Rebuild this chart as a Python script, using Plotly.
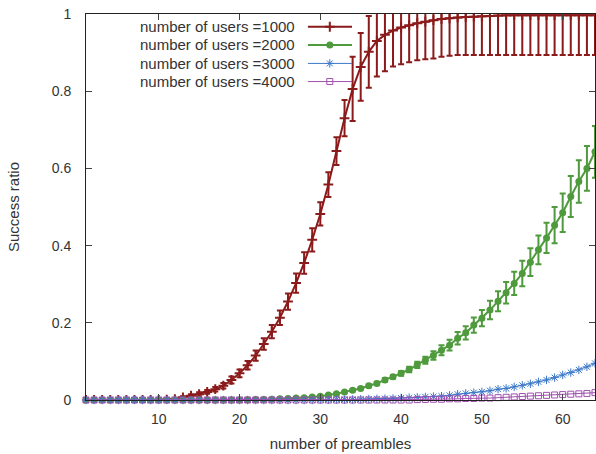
import plotly.graph_objects as go

preambles = list(range(1, 65))

users_1000 = [0, 0, 0, 0, 0, 0, 0, 0, 0, 0,
              0.001, 0.002, 0.007, 0.011, 0.015, 0.021, 0.028, 0.037, 0.052, 0.069,
              0.09, 0.115, 0.145, 0.177, 0.213, 0.255, 0.303, 0.355, 0.415, 0.482,
              0.558, 0.645, 0.73, 0.806, 0.863, 0.902, 0.93, 0.946, 0.957, 0.965,
              0.971, 0.976, 0.98, 0.984, 0.987, 0.989, 0.991, 0.992, 0.993, 0.994,
              0.995, 0.996, 0.997, 0.997, 0.997, 0.997, 0.997, 0.997, 0.997, 0.997,
              0.997, 0.997, 0.997, 0.997]
err_1000 = [0, 0, 0, 0, 0, 0, 0, 0, 0, 0,
            0.002, 0.002, 0.003, 0.004, 0.005, 0.005, 0.006, 0.007, 0.009, 0.01,
            0.011, 0.013, 0.015, 0.017, 0.019, 0.021, 0.025, 0.028, 0.03, 0.03,
            0.032, 0.036, 0.047, 0.083, 0.088, 0.093, 0.092, 0.094, 0.093, 0.095,
            0.096, 0.096, 0.097, 0.099, 0.098, 0.097, 0.097, 0.098, 0.099, 0.1,
            0.101, 0.102, 0.103, 0.103, 0.103, 0.103, 0.103, 0.103, 0.103, 0.103,
            0.103, 0.103, 0.103, 0.103]

users_2000 = [0, 0, 0, 0, 0, 0, 0, 0, 0, 0,
              0, 0, 0, 0, 0, 0, 0, 0, 0, 0,
              0.0005, 0.001, 0.0015, 0.002, 0.003, 0.004, 0.005, 0.006, 0.008, 0.01,
              0.013, 0.016, 0.021, 0.025, 0.03, 0.037, 0.043, 0.052, 0.06, 0.069,
              0.079, 0.091, 0.103, 0.115, 0.129, 0.142, 0.16, 0.174, 0.194, 0.212,
              0.233, 0.256, 0.278, 0.302, 0.328, 0.357, 0.389, 0.42, 0.453, 0.485,
              0.527, 0.566, 0.6, 0.643]
err_2000 = [0, 0, 0, 0, 0, 0, 0, 0, 0, 0,
            0, 0, 0, 0, 0, 0, 0, 0, 0, 0,
            0.001, 0.001, 0.001, 0.001, 0.001, 0.001, 0.001, 0.001, 0.001, 0.001,
            0.002, 0.002, 0.002, 0.003, 0.003, 0.004, 0.004, 0.005, 0.005, 0.006,
            0.007, 0.008, 0.009, 0.011, 0.013, 0.014, 0.016, 0.017, 0.02, 0.021,
            0.024, 0.026, 0.028, 0.03, 0.033, 0.036, 0.037, 0.039, 0.047, 0.05,
            0.053, 0.055, 0.058, 0.067]

users_3000 = [0, 0, 0, 0, 0, 0, 0, 0, 0, 0,
              0, 0, 0, 0, 0, 0, 0, 0, 0, 0,
              0, 0, 0, 0, 0, 0, 0, 0, 0, 0.0005,
              0.0007, 0.001, 0.001, 0.0015, 0.002, 0.0025, 0.003, 0.0035, 0.004, 0.005,
              0.006, 0.007, 0.008, 0.009, 0.01, 0.012, 0.015, 0.017, 0.019, 0.021,
              0.024, 0.028, 0.03, 0.034, 0.038, 0.042, 0.047, 0.052, 0.058, 0.065,
              0.071, 0.078, 0.086, 0.095]

users_4000 = [0, 0, 0, 0, 0, 0, 0, 0, 0, 0,
              0, 0, 0, 0, 0, 0, 0, 0, 0, 0,
              0, 0, 0, 0, 0, 0, 0, 0, 0, 0,
              0, 0, 0, 0, 0, 0, 0, 0, 0, 0,
              0, 0.001, 0.0015, 0.002, 0.002, 0.003, 0.003, 0.004, 0.004, 0.005,
              0.005, 0.006, 0.007, 0.008, 0.009, 0.01, 0.011, 0.012, 0.013, 0.014,
              0.015, 0.016, 0.017, 0.019]

series_names = ["number of users =1000", "number of users =2000",
                "number of users =3000", "number of users =4000"]
x_ticks = [10, 20, 30, 40, 50, 60]
y_ticks = [0, 0.2, 0.4, 0.6, 0.8, 1]
y_tick_text = ["0", "0.2", "0.4", "0.6", "0.8", "1"]

RED = "#8b1a1a"
GREEN = "#4e9a3c"
BLUE = "#3c78c8"
PURPLE = "#a050b0"
FONT = "Liberation Sans"
TXT = "#333333"

styles = [
    dict(color=RED, lw=2, sym="cross-thin", size=7, mlw=2),
    dict(color=GREEN, lw=2, sym="circle", size=7, mlw=0),
    dict(color=BLUE, lw=1, sym="asterisk-open", size=7, mlw=1),
    dict(color=PURPLE, lw=1, sym="square-open", size=6, mlw=1),
]

fig = go.Figure()

data = [(users_1000, err_1000), (users_2000, err_2000), (users_3000, None), (users_4000, None)]
for i, ((vals, errs), st) in enumerate(zip(data, styles)):
    tr = dict(
        x=preambles, y=vals, mode="lines+markers", name=series_names[i],
        line=dict(color=st["color"], width=st["lw"]),
        marker=dict(symbol=st["sym"], size=st["size"], color=st["color"],
                    line=dict(color=st["color"], width=st["mlw"])),
        showlegend=False,
        cliponaxis=(i == 0),
    )
    if errs is not None:
        tr["error_y"] = dict(type="data", array=errs, visible=True,
                             color=st["color"], thickness=2, width=3)
    fig.add_trace(go.Scatter(**tr))

# legend key drawn on an overlay axis spanning the plot area
key_y = [0.967, 0.920, 0.872, 0.825]
for i, st in enumerate(styles):
    fig.add_trace(go.Scatter(
        x=[0.436, 0.5226], y=[key_y[i], key_y[i]], mode="lines",
        line=dict(color=st["color"], width=st["lw"]),
        xaxis="x2", yaxis="y2", showlegend=False, hoverinfo="skip"))
    fig.add_trace(go.Scatter(
        x=[0.479], y=[key_y[i]], mode="markers",
        marker=dict(symbol=st["sym"], size=st["size"], color=st["color"],
                    line=dict(color=st["color"], width=st["mlw"])),
        xaxis="x2", yaxis="y2", showlegend=False, hoverinfo="skip"))
    fig.add_annotation(x=0.4145, y=key_y[i], xref="paper", yref="paper",
                       text=series_names[i], showarrow=False,
                       xanchor="right", yanchor="middle",
                       font=dict(family=FONT, size=15, color=TXT))

axis_common = dict(showline=True, linecolor="#222222", linewidth=1,
                   mirror="ticks", ticks="inside", ticklen=6,
                   tickcolor="#444444", showgrid=False, zeroline=False,
                   tickfont=dict(family=FONT, size=14, color=TXT))

fig.update_layout(
    width=596, height=454,
    margin=dict(l=86, r=1, t=14, b=54),
    paper_bgcolor="white", plot_bgcolor="white",
    xaxis=dict(range=[1, 64], tickvals=x_ticks,
               title=dict(text="number of preambles", standoff=12,
                          font=dict(family=FONT, size=15, color=TXT)),
               ticklabelstandoff=6, **axis_common),
    yaxis=dict(range=[0, 1], tickvals=y_ticks, ticktext=y_tick_text,
               title=dict(text="Success ratio", standoff=28,
                          font=dict(family=FONT, size=15, color=TXT)),
               ticklabelstandoff=11, **axis_common),
    xaxis2=dict(range=[0, 1], overlaying="x", visible=False, fixedrange=True),
    yaxis2=dict(range=[0, 1], overlaying="y", visible=False, fixedrange=True),
)

fig.write_html("out.html", post_script="document.body.style.margin='0';",
               config={"displayModeBar": False})
